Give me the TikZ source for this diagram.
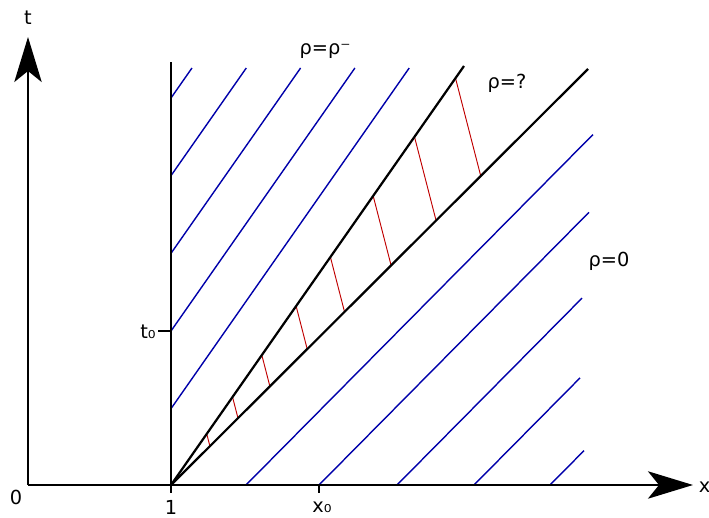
\documentclass[tikz,border=0pt]{standalone}
\usepackage{fontspec}
\setmainfont{DejaVu Sans}
\usetikzlibrary{arrows.meta,calc}
\definecolor{CharBlue}{HTML}{0000AA}
\definecolor{CharRed} {HTML}{C00000}
\tikzset{
  axisline/.style={line width=2.1pt,-{Stealth[length=1.35cm,width=0.82cm,inset=0.33cm]}},
  boldline/.style={line width=1.9pt},
  bluechar/.style={CharBlue,line width=1.2pt},
  redchar/.style={CharRed,line width=0.8pt},
}

\begin{document}
\begin{tikzpicture}[font=\fontsize{16.5}{19}\selectfont]
    \useasboundingbox (-0.84,-0.99) rectangle (20.43,14.55);
    \coordinate (O) at (0,0);
    \coordinate (xend) at (19.95,0);
    \coordinate (tend) at (0,13.44);
    \coordinate (one) at (4.29,0);
    \coordinate (xzero) at (8.73,0);
    \coordinate (tzero) at (4.29,4.62);
    \coordinate (wall) at (4.29,12.69);
    \coordinate (fanU) at (13.08,12.57);
    \coordinate (fanL) at (16.8,12.48);
    % characteristics from the boundary x=1
    \foreach \ty in {2.29,4.62,6.95,9.28,11.61}{
      \pgfmathsetmacro{\dx}{(12.51-\ty)/1.43}
      \draw[bluechar] (4.29,\ty) -- ++(\dx,{12.51-\ty});
    }
    % characteristics from the x axis
    \foreach \xs/\xe in {6.54/16.95,8.73/16.83,11.07/16.62,13.38/16.56,15.66/16.68}{
      \draw[bluechar] (\xs,0) -- (\xe,{(\xe-\xs)*1.01});
    }
    % inside the fan
    \foreach \s in {0.971,0.831,0.690,0.544,0.427,0.310,0.210,0.122}{
      \draw[redchar] ($(one)!\s!(fanU)$) -- ($(one)!0.765*\s!(fanL)$);
    }
    % axes
    \draw[axisline] (O) -- (xend);
    \draw[axisline] (O) -- (tend);
    \draw[boldline] (one) -- (wall);
    \draw[boldline] (one) -- (fanU);
    \draw[boldline] (one) -- (fanL);
    % ticks
    \draw[boldline] (one) -- ++(0,-0.24);
    \draw[boldline] (xzero) -- ++(0,-0.24);
    \draw[boldline] (tzero) -- ++(-0.39,0);
    % labels
    \node (tlbl) at (0,14.01) {t};
    \node[anchor=west] (xlbl) at (20.0,-0.06) {x};
    \node (zlbl) at (-0.36,-0.36) {0};
    \node (onelbl) at (4.29,-0.66) {1};
    \node (x0lbl) at (8.82,-0.66) {x₀};
    \node (t0lbl) at (3.6,4.59) {t₀};
    \node (rholeft) at (8.91,13.02) {ρ=ρ⁻};
    \node (rhofan) at (14.37,12.06) {ρ=?};
    \node (rhozero) at (17.43,6.72) {ρ=0};
\end{tikzpicture}
\end{document}
